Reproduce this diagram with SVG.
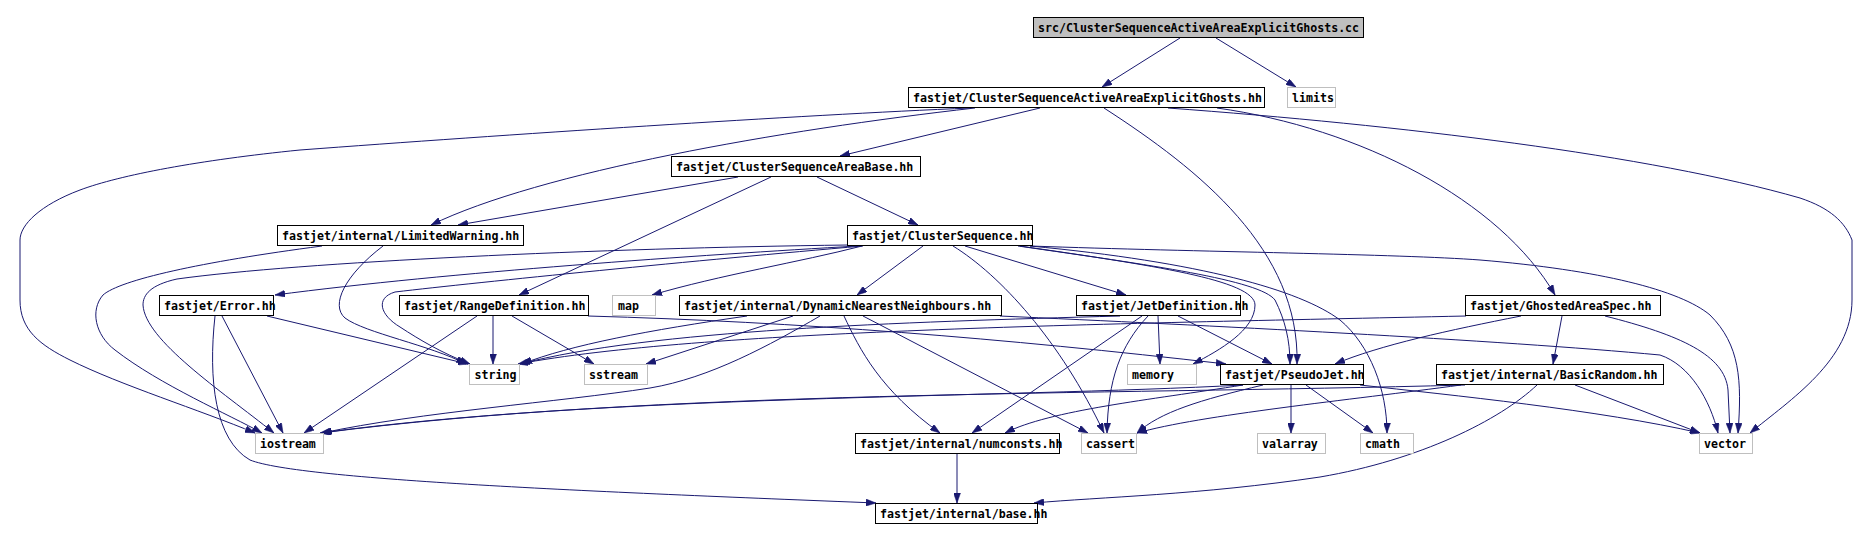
<svg xmlns="http://www.w3.org/2000/svg" width="1870" height="540" viewBox="0 0 1870 540">
<style>
.n rect{fill:#ffffff;stroke:#000000;stroke-width:1}
.s rect{fill:#ffffff;stroke:#bfbfbf;stroke-width:1}
.r rect{fill:#bfbfbf;stroke:#000000;stroke-width:1}
text{font-family:"DejaVu Sans Mono","Liberation Mono",monospace;font-size:11.6px;font-weight:bold;fill:#000000}
#edges path{fill:none;stroke:#191970;stroke-width:1;marker-end:url(#arr)}
</style>
<defs>
<marker id="arr" markerUnits="userSpaceOnUse" viewBox="0 0 10 7" markerWidth="10" markerHeight="7" refX="10" refY="3.5" orient="auto">
<path d="M0,0 L10,3.5 L0,7 z" fill="#191970" stroke="#191970" stroke-width="0.5"/>
</marker>
</defs>
<rect x="0" y="0" width="1870" height="540" fill="#ffffff"/>
<g id="edges">
<path d="M1180,38 L1102,87"/>
<path d="M1216,38 L1296,87"/>
<path d="M1040,108 L840,156"/>
<path d="M975,108 C780,130 540,172 431,225"/>
<path d="M971,108 C800,115 500,135 300,150 C200,160 120,175 80,190 C40,205 20,225 20,240 L20,300 C20,330 40,345 70,360 C120,385 200,410 255,433"/>
<path d="M1104,108 C1200,170 1300,250 1297,364"/>
<path d="M1217,108 C1360,128 1500,200 1555,295"/>
<path d="M1168,108 C1400,125 1650,155 1800,198 C1830,208 1845,222 1852,240 L1852,300 C1852,360 1790,400 1750,433"/>
<path d="M738,177 L458,225"/>
<path d="M817,177 L918,225"/>
<path d="M771,177 L519,295"/>
<path d="M322,246 C200,262 120,280 103,295 C90,310 95,335 115,350 C160,385 230,415 262,433"/>
<path d="M383,246 C345,275 330,305 345,318 C365,333 430,345 466,364"/>
<path d="M848,245 C600,248 300,262 177,279 C150,285 143,295 143,305 C145,340 220,390 274,433"/>
<path d="M863,246 C700,260 480,282 395,292 C375,298 380,315 400,327 C420,340 440,352 470,364"/>
<path d="M858,246 C700,255 450,272 275,295"/>
<path d="M862,246 C800,262 720,275 652,295"/>
<path d="M923,246 L857,295"/>
<path d="M965,246 L1126,295"/>
<path d="M953,246 C1000,275 1060,340 1104,433"/>
<path d="M1020,246 C1150,265 1255,280 1255,305 C1255,330 1220,350 1193,364"/>
<path d="M1018,246 C1150,265 1260,280 1275,300 C1285,320 1290,340 1290,364"/>
<path d="M1030,246 C1200,262 1300,290 1340,320 C1370,345 1387,390 1387,433"/>
<path d="M1030,246 C1200,252 1400,254 1480,260 C1600,270 1680,290 1710,315 C1740,345 1742,380 1738,433"/>
<path d="M267,316 L468,364"/>
<path d="M222,316 L283,433"/>
<path d="M215,316 C208,380 215,440 250,460 C300,480 600,492 876,503"/>
<path d="M493,316 L493,364"/>
<path d="M512,316 L594,364"/>
<path d="M477,316 L304,433"/>
<path d="M588,316 C800,322 1000,338 1226,364"/>
<path d="M747,316 C650,330 570,345 522,364"/>
<path d="M793,316 L646,364"/>
<path d="M820,316 C770,345 710,378 650,388 C560,402 420,412 322,433"/>
<path d="M844,316 C860,350 880,390 940,433"/>
<path d="M863,316 L1088,433"/>
<path d="M1000,316 C1200,325 1500,340 1660,355 C1690,365 1710,400 1718,433"/>
<path d="M1120,316 C900,322 650,330 520,364"/>
<path d="M1158,316 L1160,364"/>
<path d="M1178,316 L1272,364"/>
<path d="M1142,316 L972,433"/>
<path d="M1148,316 C1120,346 1108,380 1107,433"/>
<path d="M1466,316 C1100,324 700,330 518,364"/>
<path d="M1521,316 C1450,330 1380,345 1335,364"/>
<path d="M1562,316 L1553,364"/>
<path d="M1605,316 C1680,335 1725,355 1728,390 L1730,433"/>
<path d="M1243,385 C1000,398 600,395 320,433"/>
<path d="M1243,385 C1150,400 1050,410 1005,433"/>
<path d="M1263,385 C1200,400 1160,412 1137,433"/>
<path d="M1291,385 L1291,433"/>
<path d="M1306,385 L1373,433"/>
<path d="M1360,385 C1450,395 1600,410 1700,433"/>
<path d="M1465,385 C1100,395 650,390 321,433"/>
<path d="M1461,385 C1350,400 1200,415 1137,433"/>
<path d="M1575,385 L1700,433"/>
<path d="M1537,385 C1500,420 1420,460 1320,477 C1200,495 1100,497 1034,503"/>
<path d="M957,454 L957,503"/>
</g>
<g id="n_src" class="r"><rect x="1033.5" y="17.5" width="330" height="20"/><text x="1038" y="31.5">src/ClusterSequenceActiveAreaExplicitGhosts.cc</text></g>
<g id="n_csaaeg" class="n"><rect x="908.5" y="87.5" width="356" height="20"/><text x="913" y="101.5">fastjet/ClusterSequenceActiveAreaExplicitGhosts.hh</text></g>
<g id="n_limits" class="s"><rect x="1287.5" y="87.5" width="48" height="20"/><text x="1292" y="101.5">limits</text></g>
<g id="n_csab" class="n"><rect x="671.5" y="156.5" width="249" height="20"/><text x="676" y="170.5">fastjet/ClusterSequenceAreaBase.hh</text></g>
<g id="n_cs" class="n"><rect x="847.5" y="225.5" width="185" height="20"/><text x="852" y="239.5">fastjet/ClusterSequence.hh</text></g>
<g id="n_lw" class="n"><rect x="277.5" y="225.5" width="246" height="20"/><text x="282" y="239.5">fastjet/internal/LimitedWarning.hh</text></g>
<g id="n_error" class="n"><rect x="159.5" y="295.5" width="114" height="20"/><text x="164" y="309.5">fastjet/Error.hh</text></g>
<g id="n_range" class="n"><rect x="399.5" y="295.5" width="189" height="20"/><text x="404" y="309.5">fastjet/RangeDefinition.hh</text></g>
<g id="n_map" class="s"><rect x="612.5" y="295.5" width="43" height="20"/><text x="618" y="309.5">map</text></g>
<g id="n_dnn" class="n"><rect x="679.5" y="295.5" width="322" height="20"/><text x="684" y="309.5">fastjet/internal/DynamicNearestNeighbours.hh</text></g>
<g id="n_jetdef" class="n"><rect x="1076.5" y="295.5" width="164" height="20"/><text x="1081" y="309.5">fastjet/JetDefinition.hh</text></g>
<g id="n_gas" class="n"><rect x="1465.5" y="295.5" width="195" height="20"/><text x="1470" y="309.5">fastjet/GhostedAreaSpec.hh</text></g>
<g id="n_string" class="s"><rect x="469.5" y="364.5" width="50" height="20"/><text x="474.5" y="378.5">string</text></g>
<g id="n_sstream" class="s"><rect x="584.5" y="364.5" width="63" height="20"/><text x="589" y="378.5">sstream</text></g>
<g id="n_memory" class="s"><rect x="1127.5" y="364.5" width="69" height="20"/><text x="1132" y="378.5">memory</text></g>
<g id="n_pseudojet" class="n"><rect x="1220.5" y="364.5" width="143" height="20"/><text x="1225" y="378.5">fastjet/PseudoJet.hh</text></g>
<g id="n_basicrandom" class="n"><rect x="1436.5" y="364.5" width="227" height="20"/><text x="1441" y="378.5">fastjet/internal/BasicRandom.hh</text></g>
<g id="n_iostream" class="s"><rect x="255.5" y="433.5" width="68" height="20"/><text x="260" y="447.5">iostream</text></g>
<g id="n_numconsts" class="n"><rect x="855.5" y="433.5" width="204" height="20"/><text x="860" y="447.5">fastjet/internal/numconsts.hh</text></g>
<g id="n_cassert" class="s"><rect x="1081.5" y="433.5" width="55" height="20"/><text x="1086" y="447.5">cassert</text></g>
<g id="n_valarray" class="s"><rect x="1257.5" y="433.5" width="68" height="20"/><text x="1262" y="447.5">valarray</text></g>
<g id="n_cmath" class="s"><rect x="1360.5" y="433.5" width="53" height="20"/><text x="1365" y="447.5">cmath</text></g>
<g id="n_vector" class="s"><rect x="1699.5" y="433.5" width="53" height="20"/><text x="1704" y="447.5">vector</text></g>
<g id="n_base" class="n"><rect x="875.5" y="503.5" width="162" height="20"/><text x="880" y="517.5">fastjet/internal/base.hh</text></g>
</svg>
